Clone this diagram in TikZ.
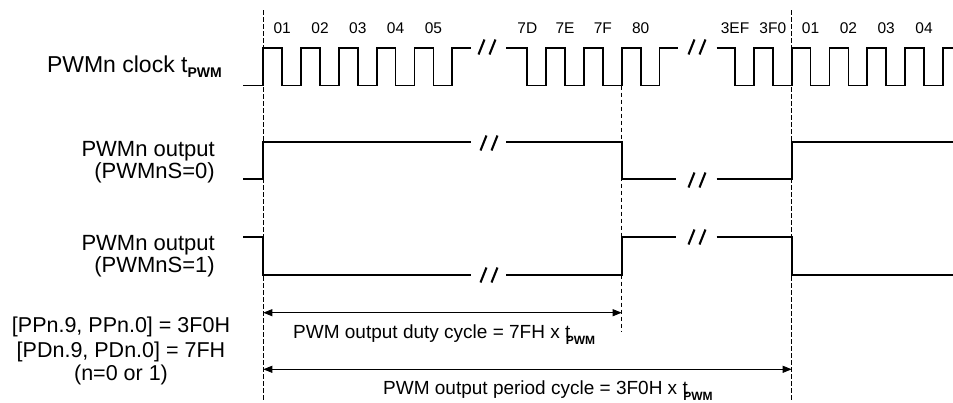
\documentclass[tikz,border=0pt]{standalone}
\usepackage{fontspec}
\setmainfont{Liberation Sans}
\usetikzlibrary{arrows.meta}
\tikzset{
  wave/.style={line width=1.7pt, line join=miter},
  guide/.style={line width=0.8pt, dash pattern=on 4.5pt off 2.5pt},
  dimarrow/.style={line width=0.9pt, {Triangle[length=9pt,width=7pt]}-{Triangle[length=9pt,width=7pt]}},
  lbl/.style={inner sep=0pt, font=\fontsize{22}{24}\selectfont},
  clk/.style={inner sep=0pt, anchor=base, font=\fontsize{15.5}{17}\selectfont},
  dim/.style={inner sep=0pt, anchor=base west, font=\fontsize{19}{22}\selectfont},
  brkmark/.pic={\draw[line width=2.1pt] (-8.5,7.5) -- (-2.5,-7.5) (2.5,7.5) -- (8.5,-7.5);}
}
\begin{document}
\begin{tikzpicture}[x=1pt,y=-1pt]
\useasboundingbox (0,0) rectangle (953,402);
% guide lines
\coordinate (g1t) at (263.3,10);
\coordinate (g1b) at (263.3,402);
\coordinate (g2t) at (621.7,85.5);
\coordinate (g2b) at (621.7,331.5);
\coordinate (g3t) at (791.7,10);
\coordinate (g3b) at (791.7,402);
\draw[guide] (g1t) -- (g1b);
\draw[guide] (g2t) -- (g2b);
\draw[guide] (g3t) -- (g3b);
% clock
\draw[wave] (243,85.5) -- (263.3,85.5)
  \foreach \i in {0,...,4} { -- ({263.3+37.8*\i},48) -- ({282.2+37.8*\i},48) -- ({282.2+37.8*\i},85.5) -- ({301.1+37.8*\i},85.5) -- ({301.1+37.8*\i},48) } -- (471,48);
\draw[wave] (506,48)
  \foreach \k in {0,...,3} { -- ({527.3+37.8*\k},48) -- ({527.3+37.8*\k},85.5) -- ({546.2+37.8*\k},85.5) -- ({546.2+37.8*\k},48) } -- (678,48);
\draw[wave] (716.7,48)
  \foreach \k in {0,...,5} { -- ({735+37.8*\k},48) -- ({735+37.8*\k},85.5) -- ({753.9+37.8*\k},85.5) -- ({753.9+37.8*\k},48) } -- (953,48);
% output S=0
\draw[wave] (243,179.3) -- (263.3,179.3) -- (263.3,142.3) -- (471,142.3);
\draw[wave] (506,142.3) -- (621.7,142.3) -- (621.7,179.3) -- (676,179.3);
\draw[wave] (716.7,179.3) -- (791.7,179.3) -- (791.7,142.3) -- (953,142.3);
% output S=1
\draw[wave] (243,237.3) -- (263.3,237.3) -- (263.3,275) -- (471,275);
\draw[wave] (506,275) -- (621.7,275) -- (621.7,237.3) -- (676,237.3);
\draw[wave] (716.7,237.3) -- (791.7,237.3) -- (791.7,275) -- (953,275);
% break marks
\pic at (487,47) {brkmark};
\pic at (697,47) {brkmark};
\pic at (489,143) {brkmark};
\pic at (697,180) {brkmark};
\pic at (697,237) {brkmark};
\pic at (489,275) {brkmark};
% clock labels
\node[clk] (c01a) at (282.2,33.3) {01};
\node[clk] (c02a) at (320,33.3) {02};
\node[clk] (c03a) at (357.8,33.3) {03};
\node[clk] (c04a) at (395.6,33.3) {04};
\node[clk] (c05a) at (433.4,33.3) {05};
\node[clk] (c7D) at (527.3,33.3) {7D};
\node[clk] (c7E) at (565.1,33.3) {7E};
\node[clk] (c7F) at (602.9,33.3) {7F};
\node[clk] (c80) at (640.7,33.3) {80};
\node[clk] (c3EF) at (735,33.3) {3EF};
\node[clk] (c3F0) at (772.8,33.3) {3F0};
\node[clk] (c01b) at (810.6,33.3) {01};
\node[clk] (c02b) at (848.4,33.3) {02};
\node[clk] (c03b) at (886.2,33.3) {03};
\node[clk] (c04b) at (924,33.3) {04};
% left labels
\node[lbl, anchor=base east, font=\fontsize{23}{25}\selectfont] (lclk) at (222,72.7) {PWMn clock t\raisebox{-5pt}{\fontsize{14}{14}\selectfont\bfseries PWM}};
\node[lbl, anchor=base east] (lo0a) at (215,156.7) {PWMn output};
\node[lbl, anchor=base east] (lo0b) at (215,178.3) {(PWMnS=0)};
\node[lbl, anchor=base east] (lo1a) at (215,250.7) {PWMn output};
\node[lbl, anchor=base east] (lo1b) at (215,272.7) {(PWMnS=1)};
\node[lbl, anchor=base, font=\fontsize{21.5}{24}\selectfont] (lpp) at (121,332.5) {[PPn.9, PPn.0] = 3F0H};
\node[lbl, anchor=base, font=\fontsize{21.5}{24}\selectfont] (lpd) at (121,357) {[PDn.9, PDn.0] = 7FH};
\node[lbl, anchor=base, font=\fontsize{21.5}{24}\selectfont] (ln) at (121,380.5) {(n=0 or 1)};
% dimension arrows
\coordinate (d0) at (263.3,312.7);
\coordinate (d1) at (621.7,312.7);
\coordinate (p0) at (263.3,369.3);
\coordinate (p1) at (791.7,369.3);
\draw[dimarrow] (d0) -- (d1);
\draw[dimarrow] (p0) -- (p1);
\node[dim] (tduty) at (293,338) {PWM output duty cycle = 7FH x t\kern-4.5pt\raisebox{-6pt}{\fontsize{12}{12}\selectfont\bfseries PWM}};
\node[dim] (tper) at (383,394) {PWM output period cycle = 3F0H x t\kern-4.5pt\raisebox{-6pt}{\fontsize{12}{12}\selectfont\bfseries PWM}};
\end{tikzpicture}
\end{document}
